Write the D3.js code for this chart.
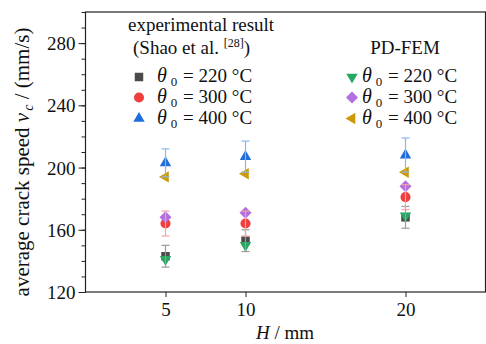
<!DOCTYPE html>
<html>
<head>
<meta charset="utf-8">
<script src="https://cdn.jsdelivr.net/npm/d3@7"></script>
<style>
  body { margin: 0; background: #fff; }
  svg { display: block; font-family: "Liberation Serif", "Times New Roman", serif; }
</style>
</head>
<body>
<svg id="chart" width="486" height="344"></svg>
<script>
// H (mm)
const hValues = [5, 10, 20];
const xTicks = [5, 10, 20];
const yTicks = [120, 160, 200, 240, 280];

// experimental (Shao et al.)
const exp220 = [143, 153, 168];
const exp220Err = [7, 7, 7];
const exp300 = [164, 164, 181];
const exp300Err = [8, 8, 8];
const exp400 = [203, 207, 208];
const exp400Err = [9, 10, 11];

// PD-FEM
const pd220 = [141, 150, 169];
const pd300 = [168, 171, 188];
const pd400 = [194, 196, 197];

const temps = ['220', '300', '400'];

const svg = d3.select('#chart');
const margin = { left: 85.5, right: 0.5, top: 12, bottom: 52 };
const W = 486, H = 344;

const x = d3.scaleLinear().domain([0, 25]).range([margin.left, W - margin.right]);
const y = d3.scaleLinear().domain([120, 300]).range([H - margin.bottom, margin.top]);

const styles = {
  exp220: { color: '#4a4a4a', sym: d3.symbolSquare, size: 72, rot: 0, err: '#9a9a9a' },
  exp300: { color: '#f03e3e', sym: d3.symbolCircle, size: 80, rot: 0, err: '#f2a3a3' },
  exp400: { color: '#1f6ddb', sym: d3.symbolTriangle, size: 56, rot: 0, err: '#8db5ec' },
  pd220: { color: '#27a862', sym: d3.symbolTriangle, size: 56, rot: 180 },
  pd300: { color: '#b36fe0', sym: d3.symbolSquare, size: 72, rot: 45 },
  pd400: { color: '#cc9a08', sym: d3.symbolTriangle, size: 56, rot: -90 }
};

// axes
const yMinor = d3.range(120, 301, 10);
svg.append('g')
  .attr('transform', `translate(${margin.left},0)`)
  .call(d3.axisLeft(y).tickValues(yMinor).tickSize(4).tickFormat(''))
  .call(g => g.select('.domain').remove())
  .selectAll('line').attr('stroke', '#222');

const yAxis = svg.append('g')
  .attr('transform', `translate(${margin.left},0)`)
  .call(d3.axisLeft(y).tickValues(yTicks).tickSize(7).tickPadding(3));
yAxis.select('.domain').remove();
yAxis.selectAll('text').attr('font-size', 19).attr('font-family', 'Liberation Serif').attr('fill', '#111').attr('dy', '0.35em');
yAxis.selectAll('line').attr('stroke', '#222');

const xAxis = svg.append('g')
  .attr('transform', `translate(0,${H - margin.bottom})`)
  .call(d3.axisBottom(x).tickValues(xTicks).tickSize(5).tickPadding(6));
xAxis.select('.domain').remove();
xAxis.selectAll('text').attr('font-size', 19).attr('font-family', 'Liberation Serif').attr('fill', '#111');
xAxis.selectAll('line').attr('stroke', '#222');

// frame
svg.append('rect')
  .attr('x', margin.left).attr('y', margin.top)
  .attr('width', W - margin.left - margin.right)
  .attr('height', H - margin.top - margin.bottom)
  .attr('fill', 'none').attr('stroke', '#222').attr('stroke-width', 1.2);

function symbolPath(st) {
  return d3.symbol().type(st.sym).size(st.size)();
}

function drawMarkers(key, vals) {
  const st = styles[key];
  svg.append('g').selectAll('path').data(vals).join('path')
    .attr('d', symbolPath(st))
    .attr('transform', (d, i) => `translate(${x(hValues[i])},${y(d)}) rotate(${st.rot})`)
    .attr('fill', st.color);
}

function drawErr(key, vals, errs) {
  const st = styles[key];
  const g = svg.append('g').attr('stroke', st.err).attr('stroke-width', 1.2);
  vals.forEach((v, i) => {
    const cx = x(hValues[i]);
    g.append('line').attr('x1', cx).attr('x2', cx).attr('y1', y(v - errs[i])).attr('y2', y(v + errs[i]));
    [v - errs[i], v + errs[i]].forEach(e => {
      g.append('line').attr('x1', cx - 4).attr('x2', cx + 4).attr('y1', y(e)).attr('y2', y(e));
    });
  });
}

drawMarkers('exp220', exp220);
drawMarkers('exp300', exp300);
drawMarkers('exp400', exp400);
drawMarkers('pd220', pd220);
drawMarkers('pd300', pd300);
drawMarkers('pd400', pd400);
drawErr('exp220', exp220, exp220Err);
drawErr('exp300', exp300, exp300Err);
drawErr('exp400', exp400, exp400Err);

// legend
const leg = svg.append('g').attr('font-size', 19).attr('fill', '#111');
leg.append('text').attr('x', 128).attr('y', 31).text('experimental result');
const t2 = leg.append('text').attr('x', 133).attr('y', 54);
t2.append('tspan').text('(Shao et al. ');
t2.append('tspan').attr('font-size', 12).attr('dy', -7).text('[28]');
t2.append('tspan').attr('dy', 7).text(')');
leg.append('text').attr('x', 405).attr('y', 54).attr('text-anchor', 'middle').text('PD-FEM');

function legendRow(key, t, mx, tx, cy) {
  const st = styles[key];
  leg.append('path').attr('d', symbolPath(st))
    .attr('transform', `translate(${mx},${cy}) rotate(${st.rot})`)
    .attr('fill', st.color);
  const tt = leg.append('text').attr('x', tx).attr('y', cy + 5);
  tt.append('tspan').attr('font-style', 'italic').attr('font-size', 20).text('θ');
  tt.append('tspan').attr('font-size', 13).attr('dx', 4).attr('dy', 4).text('0');
  tt.append('tspan').attr('dx', 1).attr('dy', -4).text(` = ${t} °C`);
}
const rowsY = [77, 97.5, 118.5];
['exp220', 'exp300', 'exp400'].forEach((k, i) => legendRow(k, temps[i], 139, 157, rowsY[i]));
['pd220', 'pd300', 'pd400'].forEach((k, i) => legendRow(k, temps[i], 352, 362, rowsY[i]));

// axis titles
const yl = svg.append('text')
  .attr('transform', `translate(29,162) rotate(-90)`)
  .attr('text-anchor', 'middle').attr('font-size', 21).attr('fill', '#111');
yl.append('tspan').text('average crack speed ');
yl.append('tspan').attr('font-style', 'italic').text('v');
yl.append('tspan').attr('font-size', 14).attr('font-style', 'italic').attr('dx', 2).attr('dy', 4).text('c');
yl.append('tspan').attr('dy', -4).text(' / (mm/s)');

const xl = svg.append('text')
  .attr('x', 285).attr('y', 339)
  .attr('text-anchor', 'middle').attr('font-size', 19).attr('fill', '#111');
xl.append('tspan').attr('font-style', 'italic').text('H');
xl.append('tspan').text(' / mm');
</script>
</body>
</html>
